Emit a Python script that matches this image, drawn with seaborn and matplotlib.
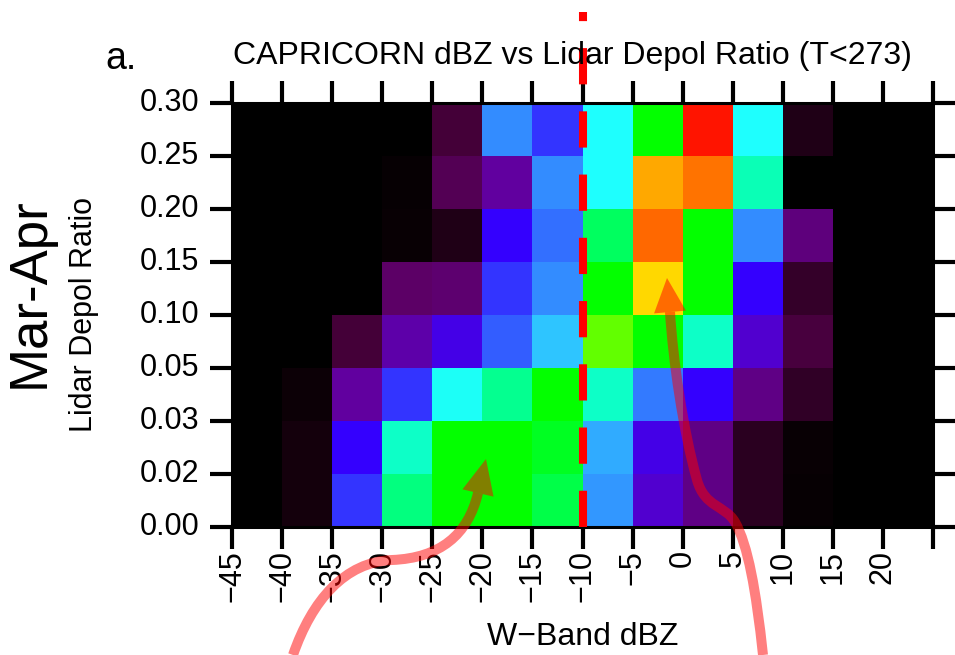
import numpy as np
import matplotlib
matplotlib.use("Agg")
import matplotlib.pyplot as plt
import matplotlib.transforms as mtransforms
from matplotlib.colors import LinearSegmentedColormap
from matplotlib.path import Path
from matplotlib.patches import PathPatch, Polygon
import seaborn as sns
import pandas as pd

# ---------------- data ----------------
dbz_edges = [-45, -40, -35, -30, -25, -20, -15, -10, -5, 0, 5, 10, 15, 20, 25]
depol_edges = ["0.00", "0.02", "0.03", "0.05", "0.10", "0.15", "0.20", "0.25", "0.30"]

# relative frequency per dBZ bin, one list per depol bin (top row first)
freq_025_030 = [0, 0, 0, 0.00, 0.15, 0.42, 0.36, 0.54, 0.72, 1.00, 0.54, 0.08, 0, 0]
freq_020_025 = [0, 0, 0, 0.02, 0.18, 0.25, 0.42, 0.54, 0.89, 0.93, 0.61, 0.00, 0, 0]
freq_015_020 = [0, 0, 0, 0.03, 0.08, 0.33, 0.40, 0.67, 0.94, 0.72, 0.42, 0.22, 0, 0]
freq_010_015 = [0, 0, 0, 0.20, 0.21, 0.36, 0.42, 0.72, 0.85, 0.72, 0.33, 0.12, 0, 0]
freq_005_010 = [0, 0, 0.15, 0.26, 0.31, 0.39, 0.48, 0.78, 0.72, 0.60, 0.29, 0.16, 0, 0]
freq_003_005 = [0, 0.04, 0.25, 0.36, 0.55, 0.64, 0.72, 0.60, 0.41, 0.33, 0.23, 0.11, 0, 0]
freq_002_003 = [0, 0.06, 0.33, 0.60, 0.72, 0.72, 0.70, 0.45, 0.31, 0.23, 0.10, 0.03, 0, 0]
freq_000_002 = [0, 0.06, 0.36, 0.65, 0.72, 0.72, 0.68, 0.43, 0.29, 0.23, 0.10, 0.02, 0, 0]

rows = [freq_025_030, freq_020_025, freq_015_020, freq_010_015,
        freq_005_010, freq_003_005, freq_002_003, freq_000_002]
row_names = ["0.25-0.30", "0.20-0.25", "0.15-0.20", "0.10-0.15",
             "0.05-0.10", "0.03-0.05", "0.02-0.03", "0.00-0.02"]
col_names = [f"{a}..{b}" for a, b in zip(dbz_edges[:-1], dbz_edges[1:])]
df = pd.DataFrame(rows, index=row_names, columns=col_names)

title = "CAPRICORN dBZ vs Lidar Depol Ratio (T<273)"

# ---------------- colormap ----------------
cmap = LinearSegmentedColormap.from_list("bkrainbow", [
    (0.00, (0.00, 0.00, 0.00)),
    (0.05, (0.06, 0.00, 0.03)),
    (0.10, (0.17, 0.00, 0.13)),
    (0.15, (0.27, 0.00, 0.22)),
    (0.20, (0.36, 0.00, 0.40)),
    (0.25, (0.38, 0.00, 0.62)),
    (0.30, (0.30, 0.00, 0.86)),
    (0.33, (0.20, 0.00, 1.00)),
    (0.36, (0.20, 0.20, 1.00)),
    (0.42, (0.20, 0.55, 1.00)),
    (0.48, (0.18, 0.78, 1.00)),
    (0.54, (0.12, 1.00, 1.00)),
    (0.60, (0.05, 1.00, 0.78)),
    (0.66, (0.00, 1.00, 0.45)),
    (0.72, (0.00, 1.00, 0.00)),
    (0.78, (0.38, 1.00, 0.00)),
    (0.85, (1.00, 0.85, 0.00)),
    (0.89, (1.00, 0.66, 0.00)),
    (0.93, (1.00, 0.47, 0.00)),
    (1.00, (1.00, 0.08, 0.00)),
])

# ---------------- figure ----------------
plt.rcParams["font.family"] = ["Liberation Sans", "DejaVu Sans"]
W, H = 955, 655
fig = plt.figure(figsize=(W / 100, H / 100), dpi=100)
ax = fig.add_axes([232 / W, 1 - 527 / H, 701 / W, 424 / H])

sns.heatmap(df, cmap=cmap, vmin=0, vmax=1, cbar=False, ax=ax)

for s in ax.spines.values():
    s.set_visible(True)
    s.set_linewidth(2.2)
    s.set_color("black")

ax.set_xticks(np.arange(len(dbz_edges)))
ax.set_xticklabels([str(v).replace("-", "\u2212") for v in dbz_edges[:-1]] + [""],
                   rotation=90, va="top", ha="center")
ax.set_yticks(np.arange(len(depol_edges)))
ax.set_yticklabels(depol_edges[::-1], rotation=0, va="center")
ax.tick_params(axis="both", which="both", direction="out", length=15.5, width=3,
               top=True, right=True, labeltop=False, labelright=False,
               labelsize=22, pad=1, color="black")
ax.tick_params(axis="y", pad=8)

ax.set_xlabel("W\u2212Band dBZ", fontsize=23)
ax.xaxis.set_label_coords(0.5, -0.225)
ax.set_ylabel("Lidar Depol Ratio", fontsize=22)
ax.yaxis.set_label_coords(-0.190, 0.5)

fig.text(572 / W, 1 - 64 / H, title, ha="center", va="baseline", fontsize=23)
fig.text(105 / W, 1 - 69 / H, "a.", ha="left", va="baseline", fontsize=27)
fig.text(30 / W, 1 - 293 / H, "Mar-Apr", ha="center", va="center",
         rotation=90, fontsize=38)

# red dashed threshold line at -10 dBZ
trans = mtransforms.blended_transform_factory(ax.transData, ax.transAxes)
x_thr = dbz_edges.index(-10)
ax.plot([x_thr, x_thr], [0, 1.215], transform=trans, color=(1, 0, 0), lw=5.8,
        linestyle=(0, (4.5, 3.35)), clip_on=False, zorder=5)


# annotation arrows (figure pixel coords, y measured from top)
def fp(x, y):
    return (x / W, 1 - y / H)


def curved_arrow(pts, tip, codes):
    verts = [fp(*p) for p in pts]
    path = Path(verts, codes)
    col = (1, 0, 0, 0.5)
    fig.add_artist(PathPatch(path, fill=False, edgecolor=col, lw=7.2,
                             capstyle="butt", transform=fig.transFigure,
                             zorder=20))
    bx, by = pts[-1]
    tx, ty = tip
    dx, dy = tx - bx, ty - by
    n = np.hypot(dx, dy)
    px, py = -dy / n, dx / n
    hw = 16
    tri = [fp(bx + px * hw, by + py * hw), fp(bx - px * hw, by - py * hw), fp(tx, ty)]
    fig.add_artist(Polygon(tri, closed=True, facecolor=col, edgecolor="none",
                           transform=fig.transFigure, zorder=20))


C4 = Path.CURVE4
curved_arrow([(293, 655), (312, 600), (345, 562), (392, 560),
              (440, 558), (468, 535), (478, 493)],
             (486, 459),
             [Path.MOVETO, C4, C4, C4, C4, C4, C4])
curved_arrow([(763, 655), (756, 590), (748, 545), (735, 522),
              (725, 505), (705, 508), (697, 480),
              (683, 430), (673, 360), (670, 312)],
             (667, 278),
             [Path.MOVETO, C4, C4, C4, C4, C4, C4, C4, C4, C4])

fig.savefig("out.png", dpi=100)
